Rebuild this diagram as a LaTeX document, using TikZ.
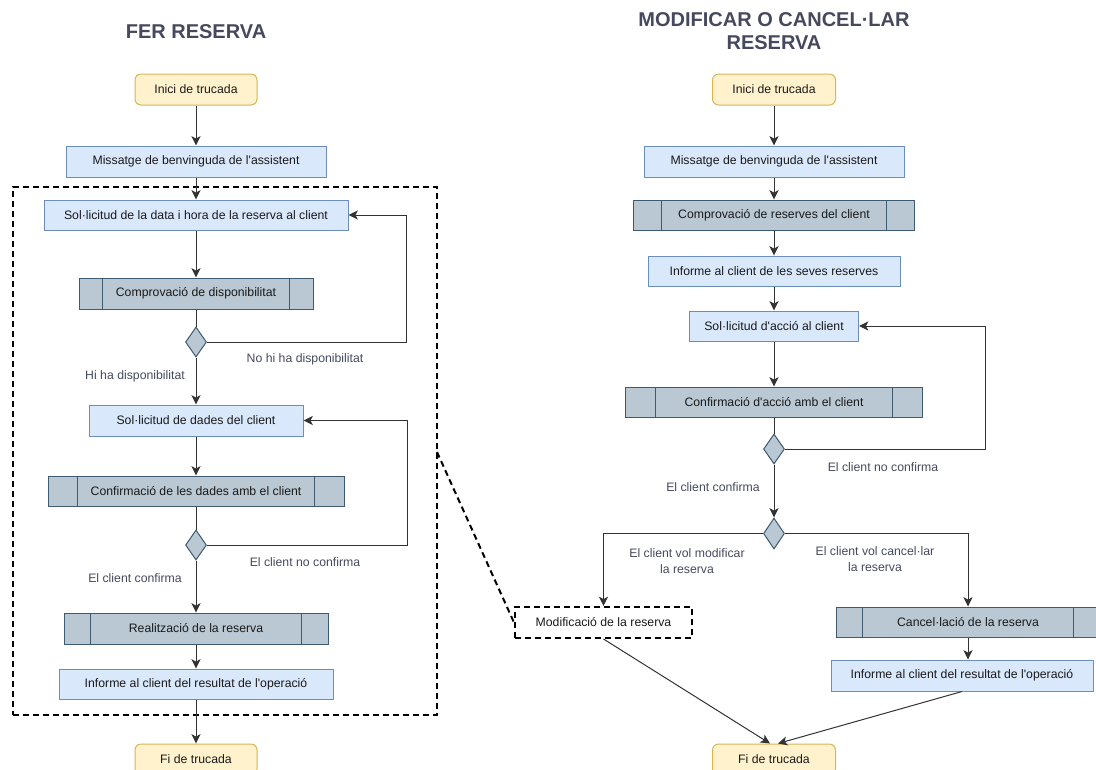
\documentclass[tikz,border=0pt]{standalone}
\usepackage{fontspec}
\setmainfont{Liberation Sans}[Ligatures=TeXOff]
\usetikzlibrary{arrows.meta,calc,shapes.geometric}
\definecolor{yelF}{HTML}{FFF2CC}
\definecolor{yelS}{HTML}{D6B656}
\definecolor{bluF}{HTML}{DAE8FC}
\definecolor{bluS}{HTML}{6C8EBF}
\definecolor{gryF}{HTML}{BAC8D3}
\definecolor{gryS}{HTML}{3D5A70}
\definecolor{lblC}{HTML}{46495D}
\definecolor{edgC}{HTML}{333333}
\definecolor{txtC}{HTML}{1A1A1A}
\newdimen\pxu
\pxu=0.75pt
\newcommand{\aq}{'}
\tikzset{
  base/.style={inner sep=0pt,line width=0.75pt,text=txtC,font=\fontsize{9.2}{11}\selectfont},
  term/.style={base,draw=yelS,fill=yelF,rounded corners=4.5pt},
  proc/.style={base,draw=bluS,fill=bluF},
  sub/.style={base,draw=gryS,fill=gryF,path picture={
    \draw[gryS,line width=0.75pt]
      ($(path picture bounding box.south west)!0.1!(path picture bounding box.south east)$) --
      ($(path picture bounding box.north west)!0.1!(path picture bounding box.north east)$);
    \draw[gryS,line width=0.75pt]
      ($(path picture bounding box.south west)!0.9!(path picture bounding box.south east)$) --
      ($(path picture bounding box.north west)!0.9!(path picture bounding box.north east)$);}},
  dec/.style={diamond,inner sep=0pt,draw=gryS,fill=gryF,line width=0.75pt},
  dashbox/.style={base,draw=black,line width=1.5pt,dash pattern=on 4.5pt off 3pt},
  ttl/.style={inner sep=0pt,text=lblC,align=center,font=\fontsize{15}{17.25}\selectfont\bfseries},
  lbl/.style={inner sep=0pt,text=lblC,align=center,font=\fontsize{9.2}{11.5}\selectfont},
  arr/.style={draw=edgC,line width=0.75pt,-{Stealth[length=7pt,width=6.8pt,inset=1.8pt]}},
  ln/.style={draw=edgC,line width=0.75pt},
  zoomln/.style={draw=black,line width=1.5pt,dash pattern=on 4.5pt off 3pt}
}
\begin{document}
\begin{tikzpicture}[x=0.75pt,y=-0.75pt]
\useasboundingbox (0,0) rectangle (1096,769);
\clip (0,0) rectangle (1096,769);

% ---------------- Left: FER RESERVA ----------------
\node[ttl] (tL) at (196,32) {FER RESERVA};
\node[dashbox,minimum width=424\pxu,minimum height=528\pxu] (grp) at (225,451) {};
\node[term,minimum width=122\pxu,minimum height=31\pxu] (startL) at (196,89.5) {Inici de trucada};
\node[proc,minimum width=260\pxu,minimum height=31\pxu] (msgL) at (196,161.5) {Missatge de benvinguda de l\aq assistent};
\node[proc,minimum width=304\pxu,minimum height=30\pxu] (solL1) at (196,215) {Sol·licitud de la data i hora de la reserva al client};
\node[sub,minimum width=234\pxu,minimum height=31\pxu] (compL) at (196,293.5) {Comprovació de disponibilitat};
\node[dec,minimum width=21\pxu,minimum height=30\pxu] (d1) at (196,342) {};
\node[proc,minimum width=214\pxu,minimum height=31\pxu] (solL2) at (196,420.5) {Sol·licitud de dades del client};
\node[sub,minimum width=296\pxu,minimum height=30\pxu] (confL) at (196,491) {Confirmació de les dades amb el client};
\node[dec,minimum width=21\pxu,minimum height=30\pxu] (d2) at (196,545) {};
\node[sub,minimum width=264\pxu,minimum height=31\pxu] (realL) at (196,628.5) {Realització de la reserva};
\node[proc,minimum width=274\pxu,minimum height=30\pxu] (infL) at (196,684) {Informe al client del resultat de l\aq operació};
\node[term,minimum width=122\pxu,minimum height=31\pxu] (endL) at (196,759.5) {Fi de trucada};

\node[lbl] (lNo1) at (305,359) {No hi ha disponibilitat};
\node[lbl] (lYes1) at (135,376) {Hi ha disponibilitat};
\node[lbl] (lNo2) at (305,562) {El client no confirma};
\node[lbl] (lYes2) at (135,578) {El client confirma};

\draw[arr] (startL) -- (msgL);
\draw[arr] (msgL) -- (solL1);
\draw[arr] (solL1) -- (compL);
\draw[ln] (compL) -- (d1);
\draw[arr] (d1) -- (solL2);
\draw[arr] (d1.east) -- (406,342) -- (406,215) -- (solL1.east);
\draw[arr] (solL2) -- (confL);
\draw[ln] (confL) -- (d2);
\draw[arr] (d2) -- (realL);
\draw[arr] (d2.east) -- (407,545) -- (407,420.5) -- (solL2.east);
\draw[arr] (realL) -- (infL);
\draw[arr] (infL) -- (endL);

% ---------------- Right: MODIFICAR O CANCEL·LAR ----------------
\node[ttl] (tR) at (774,31.5) {MODIFICAR O CANCEL·LAR\\RESERVA};
\node[term,minimum width=123\pxu,minimum height=31\pxu] (startR) at (774,89.5) {Inici de trucada};
\node[proc,minimum width=260\pxu,minimum height=31\pxu] (msgR) at (774,161.5) {Missatge de benvinguda de l\aq assistent};
\node[sub,minimum width=281\pxu,minimum height=30\pxu] (compR) at (774,215) {Comprovació de reserves del client};
\node[proc,minimum width=252\pxu,minimum height=30\pxu] (infR1) at (774,271) {Informe al client de les seves reserves};
\node[proc,minimum width=169\pxu,minimum height=30\pxu] (solR) at (774,326) {Sol·licitud d\aq acció al client};
\node[sub,minimum width=297\pxu,minimum height=30\pxu] (confR) at (774,402) {Confirmació d\aq acció amb el client};
\node[dec,minimum width=21\pxu,minimum height=30\pxu] (d3) at (774,449) {};
\node[dec,minimum width=21\pxu,minimum height=31\pxu] (d4) at (774,533.5) {};
\node[dashbox,minimum width=177\pxu,minimum height=31\pxu] (modR) at (603.5,622.5) {Modificació de la reserva};
\node[sub,minimum width=264\pxu,minimum height=30\pxu] (cancR) at (968,622) {Cancel·lació de la reserva};
\node[proc,minimum width=262\pxu,minimum height=31\pxu] (infR2) at (962,675.5) {Informe al client del resultat de l\aq operació};
\node[term,minimum width=123\pxu,minimum height=31\pxu] (endR) at (774,759.5) {Fi de trucada};

\node[lbl] (lNo3) at (883,467) {El client no confirma};
\node[lbl] (lYes3) at (713,487) {El client confirma};
\node[lbl] (lMod) at (687,561) {El client vol modificar\\la reserva};
\node[lbl] (lCan) at (875,559) {El client vol cancel·lar\\la reserva};

\draw[arr] (startR) -- (msgR);
\draw[arr] (msgR) -- (compR);
\draw[arr] (compR) -- (infR1);
\draw[arr] (infR1) -- (solR);
\draw[arr] (solR) -- (confR);
\draw[ln] (confR) -- (d3);
\draw[arr] (d3.east) -- (985,449) -- (985,326) -- (solR.east);
\draw[arr] (d3) -- (d4);
\draw[arr] (d4.west) -- (603.5,533.5) -- (modR.north);
\draw[arr] (d4.east) -- (968,533.5) -- (cancR.north);
\draw[arr] (cancR.south) -- (cancR.south |- infR2.north);
\draw[arr] (modR.south) -- ([xshift=-3pt]endR.north);
\draw[arr] (infR2.south) -- ([xshift=3pt]endR.north);

% zoom connector
\draw[zoomln] (437,452) -- (modR.west);
\end{tikzpicture}
\end{document}
